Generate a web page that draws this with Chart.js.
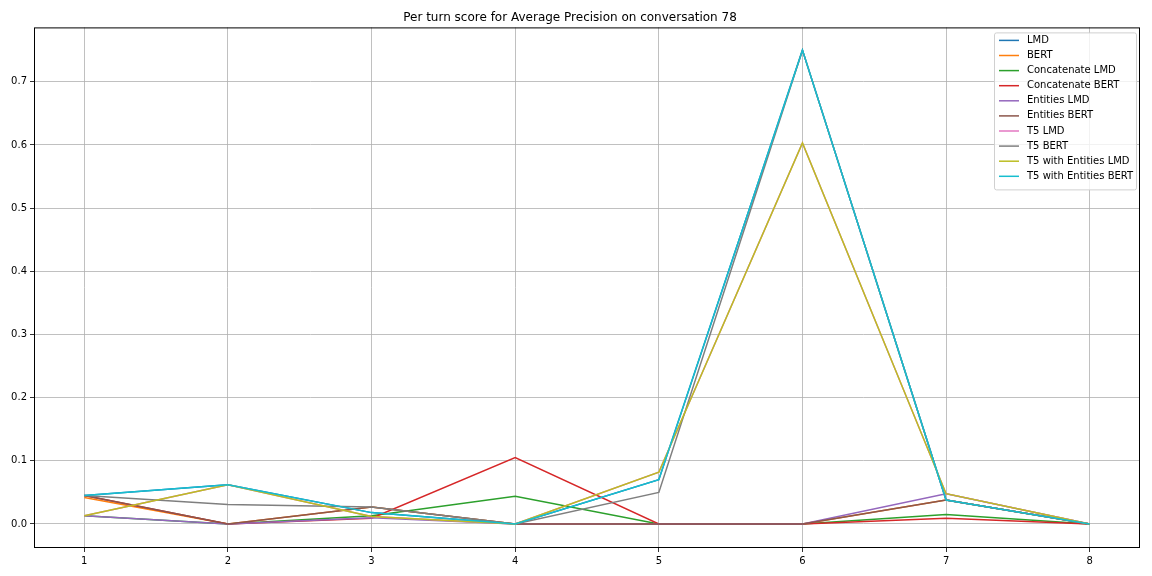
<!DOCTYPE html>
<html lang="en">
<head>
  <meta charset="UTF-8">
  <title>Per turn score for Average Precision on conversation 78</title>
  <style>
    html, body { margin: 0; padding: 0; background: white; }
    .chart-container { width: 1152px; height: 576px; position: relative; }
  </style>
</head>
<body>
  <div class="chart-container">
    <canvas id="turn-chart" width="1152" height="576"></canvas>
  </div>

  <script src="https://cdn.jsdelivr.net/npm/chart.js@4.4.0/dist/chart.umd.min.js"></script>
  <script>
    const TURNS = [1, 2, 3, 4, 5, 6, 7, 8];
    const Y_TICKS = [0.0, 0.1, 0.2, 0.3, 0.4, 0.5, 0.6, 0.7];

    const LMD               = [0.045, 0.062, 0.018, 0, 0.070, 0.750, 0.038, 0];
    const BERT              = [0.042, 0,     0.027, 0, 0,     0,     0.038, 0];
    const CONCATENATE_LMD   = [0.013, 0,     0.013, 0.044, 0, 0,     0.015, 0];
    const CONCATENATE_BERT  = [0.045, 0,     0.009, 0.105, 0, 0,     0.009, 0];
    const ENTITIES_LMD      = [0.013, 0,     0.010, 0, 0,     0,     0.048, 0];
    const ENTITIES_BERT     = [0.045, 0,     0.027, 0, 0,     0,     0.038, 0];
    const T5_LMD            = [0.013, 0.062, 0.012, 0, 0.082, 0.603, 0.048, 0];
    const T5_BERT           = [0.045, 0.031, 0.027, 0, 0.050, 0.750, 0.038, 0];
    const T5_ENTITIES_LMD   = [0.013, 0.062, 0.012, 0, 0.082, 0.603, 0.048, 0];
    const T5_ENTITIES_BERT  = [0.045, 0.062, 0.018, 0, 0.070, 0.750, 0.038, 0];

    const SERIES = [
      ['LMD', LMD, '#1f77b4'],
      ['BERT', BERT, '#ff7f0e'],
      ['Concatenate LMD', CONCATENATE_LMD, '#2ca02c'],
      ['Concatenate BERT', CONCATENATE_BERT, '#d62728'],
      ['Entities LMD', ENTITIES_LMD, '#9467bd'],
      ['Entities BERT', ENTITIES_BERT, '#8c564b'],
      ['T5 LMD', T5_LMD, '#e377c2'],
      ['T5 BERT', T5_BERT, '#7f7f7f'],
      ['T5 with Entities LMD', T5_ENTITIES_LMD, '#bcbd22'],
      ['T5 with Entities BERT', T5_ENTITIES_BERT, '#17becf'],
    ];

    const FONT = 'DejaVu Sans';

    // frame round the plot + legend box in the upper right, like matplotlib
    const framePlugin = {
      id: 'frame',
      afterDraw(chart) {
        const { ctx, chartArea: a } = chart;
        ctx.save();
        ctx.strokeStyle = '#000';
        ctx.lineWidth = 1;
        ctx.strokeRect(a.left + 0.5, a.top + 0.5, a.right - a.left - 1, a.bottom - a.top - 1);

        // legend
        const ds = chart.data.datasets;
        const lineH = 15.1;
        const w = 142, h = ds.length * lineH + 6;
        const x = a.right - w - 4, y = a.top + 5;
        ctx.fillStyle = 'rgba(255,255,255,0.8)';
        ctx.strokeStyle = '#d0d0d0';
        ctx.beginPath();
        ctx.roundRect(x + 0.5, y + 0.5, w, h, 2);
        ctx.fill();
        ctx.stroke();
        ctx.font = `10px "${FONT}"`;
        ctx.textBaseline = 'middle';
        ds.forEach((d, i) => {
          const cy = y + 8 + i * lineH;
          ctx.strokeStyle = d.borderColor;
          ctx.lineWidth = 1.5;
          ctx.beginPath();
          ctx.moveTo(x + 5, cy);
          ctx.lineTo(x + 25, cy);
          ctx.stroke();
          ctx.fillStyle = '#000';
          ctx.fillText(d.label, x + 33, cy);
        });
        ctx.restore();
      }
    };

    const ctx = document.getElementById('turn-chart');
    new Chart(ctx, {
      type: 'line',
      data: {
        datasets: SERIES.map(([label, values, color], i) => ({
          label,
          data: values.map((v, j) => ({ x: TURNS[j], y: v })),
          borderColor: color,
          backgroundColor: color,
          borderWidth: 1.5,
          pointRadius: 0,
          tension: 0,
          fill: false,
          // later series on top, like matplotlib
          order: SERIES.length - i
        }))
      },
      plugins: [framePlugin],
      options: {
        responsive: false,
        animation: false,
        devicePixelRatio: 1,
        layout: { padding: { left: 0, right: 12, top: 0, bottom: 0 } },
        plugins: {
          legend: { display: false },
          tooltip: { enabled: false },
          title: {
            display: true,
            text: 'Per turn score for Average Precision on conversation 78',
            color: '#000',
            font: { family: FONT, size: 12, weight: 'normal' },
            padding: { top: 11, bottom: 2 }
          }
        },
        scales: {
          x: {
            type: 'linear',
            min: 0.65,
            max: 8.35,
            afterBuildTicks: (scale) => { scale.ticks = TURNS.map(v => ({ value: v })); },
            afterFit: (scale) => { scale.height = 28; },
            ticks: {
              color: '#000',
              font: { family: FONT, size: 10 },
              padding: 3,
              maxRotation: 0,
              callback: (v) => String(v)
            },
            grid: { color: '#b0b0b0', lineWidth: 0.8, tickColor: '#000', tickLength: 4 },
            border: { display: false }
          },
          y: {
            min: -0.038,
            max: 0.786,
            afterBuildTicks: (scale) => { scale.ticks = Y_TICKS.map(v => ({ value: v })); },
            afterFit: (scale) => { scale.width = 34; },
            ticks: {
              color: '#000',
              font: { family: FONT, size: 10 },
              padding: 3,
              callback: (v) => v.toFixed(1)
            },
            grid: { color: '#b0b0b0', lineWidth: 0.8, tickColor: '#000', tickLength: 4 },
            border: { display: false }
          }
        }
      }
    });
  </script>
</body>
</html>
